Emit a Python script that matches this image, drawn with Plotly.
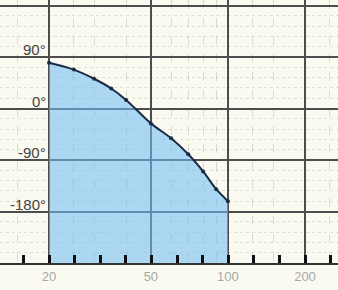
import math
import plotly.graph_objects as go

freq = [20, 25, 30, 35, 40, 50, 60, 70, 80, 90, 100]
phase = [80, 68, 52, 35, 15, -26, -52, -80, -110, -141, -162]

x_tick_vals = [20, 50, 100, 200]
x_tick_text = ["20", "50", "100", "200"]
x_minor_vals = [15, 25, 30, 40, 60, 70, 80, 90, 125, 150, 250]
x_mark_vals = [round(20 * 10 ** (k / 10), 3) for k in range(-1, 12)]
y_tick_vals = [-180, -90, 0, 90, 180]
y_tick_text = ["-180°", "-90°", "0°", "90°"]
y_label_vals = [-180, -90, 0, 90]
y_floor = -270

bg = "#fbfaf1"
grid = "#4d4d4d"

fig = go.Figure()
fig.add_trace(go.Scatter(x=freq, y=[y_floor] * len(freq), mode="lines",
                         line=dict(width=0), hoverinfo="skip", showlegend=False))
fig.add_trace(go.Scatter(x=freq, y=phase, mode="lines+markers", fill="tonexty",
                         fillcolor="rgba(113,190,243,0.58)",
                         line=dict(color="#1c2b45", width=2, shape="spline"),
                         marker=dict(size=4, color="#1c2b45"), showlegend=False))
# invisible trace for tick-mark axis
fig.add_trace(go.Scatter(x=[20], y=[0], xaxis="x2", mode="markers",
                         marker=dict(opacity=0), hoverinfo="skip", showlegend=False))

xr = [math.log10(20) - 49 / 256, math.log10(20) + 289 / 256]
fig.update_layout(
    width=338, height=290,
    margin=dict(l=0, r=0, t=0, b=27),
    paper_bgcolor=bg, plot_bgcolor=bg,
    xaxis=dict(type="log", range=xr, tickmode="array", tickvals=x_tick_vals,
               ticktext=x_tick_text, showgrid=True, gridcolor=grid, gridwidth=1.5,
               showline=True, linecolor="#333", linewidth=2, ticks="",
               tickfont=dict(family="Liberation Sans", size=13, color="#a8a8a8"),
               zeroline=False,
               minor=dict(tickmode="array", tickvals=x_minor_vals, showgrid=True,
                          gridcolor="rgba(0,0,0,0.12)", gridwidth=1, griddash="dash")),
    xaxis2=dict(type="log", range=xr, overlaying="x", anchor="y", side="bottom",
                tickmode="array", tickvals=x_mark_vals, ticks="inside",
                ticklen=8, tickwidth=3, tickcolor="#111", showticklabels=False,
                showgrid=False, zeroline=False, showline=False),
    yaxis=dict(range=[y_floor, y_floor + 263 / 0.5722], tickmode="array",
               tickvals=y_tick_vals, showticklabels=False, showgrid=True,
               gridcolor=grid, gridwidth=2, zeroline=False, ticks="",
               minor=dict(dtick=18, tick0=0, showgrid=True,
                          gridcolor="rgba(0,0,0,0.1)", gridwidth=1, griddash="dot")),
)

for v, t in zip(y_label_vals, y_tick_text):
    fig.add_annotation(x=math.log10(20), y=v, text=t, showarrow=False,
                       xanchor="right", yanchor="bottom", xshift=-1, yshift=-3,
                       font=dict(family="Liberation Sans", size=15, color="#444444"))

fig.write_html("out.html")
